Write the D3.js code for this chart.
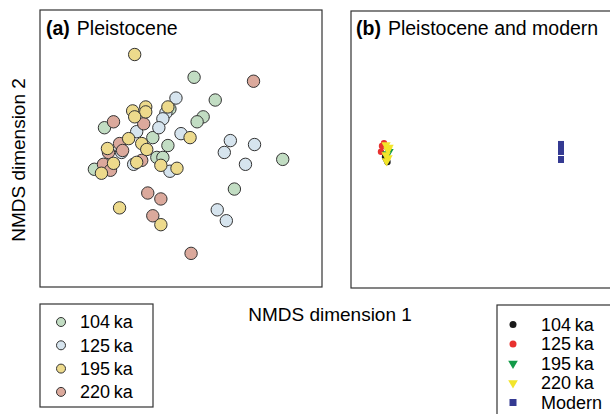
<!DOCTYPE html>
<html>
<head>
<meta charset="utf-8">
<script src="https://cdn.jsdelivr.net/npm/d3@7"></script>
<style>
body{margin:0;background:#fff;}
svg{display:block;font-family:'Liberation Sans',Arial,sans-serif;}
</style>
</head>
<body>
<div id="chart"></div>
<script>
//Panel (a): NMDS scores of Pleistocene samples
var ka104 = [[0.13,0.72],[0.34,0.49],[0.22,0.32],[0.16,0.27],[-0.76,0.21],[-0.28,0.11],[-0.13,0.03],
	[-0.24,-0.09],[-0.18,-0.09],[-0.86,-0.21],[1.01,-0.11],[0.53,-0.41],[-0.11,0.40]];
var ka125 = [[-0.05,0.51],[-0.15,0.36],[-0.18,0.30],[-0.22,0.21],[-0.44,0.17],[0.00,0.15],[0.49,0.08],
	[0.73,0.04],[0.43,-0.04],[0.64,-0.16],[-0.59,-0.04],[-0.47,-0.16],[-0.11,-0.23],[0.36,-0.62],[0.45,-0.73]];
var ka195 = [[-0.46,0.95],[-0.48,0.38],[-0.35,0.42],[-0.35,0.37],[-0.46,0.32],[-0.13,0.42],[-0.52,0.10],
	[-0.39,0.05],[-0.34,-0.01],[-0.73,0.00],[-0.67,-0.15],[-0.79,-0.25],[-0.44,-0.14],[-0.20,-0.17],
	[-0.04,-0.20],[0.09,0.11],[-0.61,-0.60],[-0.20,-0.77]];
var ka220 = [[0.72,0.68],[-0.67,0.27],[-0.37,0.25],[-0.61,0.05],[-0.58,-0.02],[-0.72,-0.04],[-0.77,-0.16],
	[-0.70,-0.22],[-0.39,-0.12],[-0.33,-0.45],[-0.20,-0.51],[-0.28,-0.68],[0.10,-1.06]];

//Panel (b): Pleistocene and modern samples in one ordination
var b104 = [[-0.06,-0.076],[-0.05,-0.096],[-0.035,-0.126]];
var b125 = [[-0.07,0.063],[-0.10,-0.022],[-0.09,0.035]];
var b195 = [[-0.02,-0.022],[-0.04,-0.045]];
var b220 = [[-0.05,0.045],[-0.02,0.02],[-0.03,-0.005],[-0.05,-0.056],[-0.03,-0.086],[-0.045,-0.116]];
var bModern = [[1.70,0.056],[1.70,0.025],[1.70,-0.005],[1.70,-0.025],[1.70,-0.096],[1.70,-0.106]];

var ageLabels = ['104\u2009ka','125\u2009ka','195\u2009ka','220\u2009ka'];
var bLabels = ['104\u2009ka','125\u2009ka','195\u2009ka','220\u2009ka','Modern'];

var W = 610, H = 414;
var svg = d3.select('#chart').append('svg').attr('width',W).attr('height',H);

var pastel = ['#c2ddc3','#d6e4ee','#edda8c','#dba99c'];
var bright = ['#1a1a1a','#e8312f','#129a48','#f2e52a','#343a92'];

//Panel (a)
var xa = d3.scaleLinear().domain([-1.4,1.4]).range([40,322]),
	ya = d3.scaleLinear().domain([-1.4,1.4]).range([287,10]);

svg.append('rect').attr('x',40).attr('y',10).attr('width',282).attr('height',277)
	.style('fill','none').style('stroke','#333').style('stroke-width',1.2);

var groupsA = [ka104,ka125,ka220,ka195],
	colA = [pastel[0],pastel[1],pastel[3],pastel[2]];
groupsA.forEach(function(g,i){
	svg.append('g').selectAll('circle').data(g).enter().append('circle')
		.attr('cx',function(d){return xa(d[0])})
		.attr('cy',function(d){return ya(d[1])})
		.attr('r',6.2)
		.style('fill',colA[i]).style('stroke','#333').style('stroke-width',1);
});

var ta = svg.append('text').attr('x',46).attr('y',35).style('font-size','19.5px');
ta.append('tspan').style('font-weight','bold').text('(a)');
ta.append('tspan').attr('dx',7).text('Pleistocene');

//Panel (b)
var xb = d3.scaleLinear().domain([-0.4,2.4]).range([351,631]),
	yb = d3.scaleLinear().domain([-1.4,1.4]).range([288,11]);

svg.append('rect').attr('x',351).attr('y',11).attr('width',280).attr('height',277)
	.style('fill','none').style('stroke','#333').style('stroke-width',1.2);

var tri = d3.symbol().type(d3.symbolTriangle).size(38);
function drawB(data,col,shape){
	var sel = svg.append('g').selectAll('path').data(data).enter();
	if(shape==='circle'){
		sel.append('circle').attr('cx',function(d){return xb(d[0])}).attr('cy',function(d){return yb(d[1])})
			.attr('r',3.2).style('fill',col);
	}else if(shape==='tri'){
		sel.append('path').attr('d',tri)
			.attr('transform',function(d){return 'translate('+xb(d[0])+','+yb(d[1])+') rotate(180)'})
			.style('fill',col);
	}else{
		sel.append('rect').attr('x',function(d){return xb(d[0])-3}).attr('y',function(d){return yb(d[1])-3})
			.attr('width',6).attr('height',6).style('fill',col);
	}
}
drawB(b104,bright[0],'circle');
drawB(b125,bright[1],'circle');
drawB(b195,bright[2],'tri');
drawB(b220,bright[3],'tri');
drawB(bModern,bright[4],'square');

var tb = svg.append('text').attr('x',356).attr('y',35).style('font-size','19.5px');
tb.append('tspan').style('font-weight','bold').text('(b)');
tb.append('tspan').attr('dx',7).text('Pleistocene and modern');

//Axis titles
svg.append('text').attr('x',330).attr('y',321).attr('text-anchor','middle')
	.style('font-size','19px').text('NMDS dimension 1');
svg.append('text').attr('transform','translate(25,160) rotate(-90)').attr('text-anchor','middle')
	.style('font-size','19px').text('NMDS dimension 2');

//Legend (a)
svg.append('rect').attr('x',40).attr('y',304).attr('width',113).attr('height',103)
	.style('fill','none').style('stroke','#333').style('stroke-width',1.2);
var legA = svg.append('g').selectAll('g').data(ageLabels).enter().append('g')
	.attr('transform',function(d,i){return 'translate(61,'+(322+i*23.3)+')'});
legA.append('circle').attr('r',4.5).style('fill',function(d,i){return pastel[i]})
	.style('stroke','#333').style('stroke-width',1);
legA.append('text').attr('x',19).attr('dy','0.36em').style('font-size','18px').text(function(d){return d});

//Legend (b)
svg.append('rect').attr('x',497).attr('y',305).attr('width',140).attr('height',140)
	.style('fill','none').style('stroke','#333').style('stroke-width',1.2);
var legB = svg.append('g').selectAll('g').data(bLabels).enter().append('g')
	.attr('transform',function(d,i){return 'translate(513,'+(324.5+i*19.5)+')'});
legB.each(function(d,i){
	var g = d3.select(this);
	if(i<2) g.append('circle').attr('r',3.5).style('fill',bright[i]);
	else if(i<4) g.append('path').attr('d',d3.symbol().type(d3.symbolTriangle).size(40)).attr('transform','rotate(180)').style('fill',bright[i]);
	else g.append('rect').attr('x',-3.5).attr('y',-3.5).attr('width',7).attr('height',7).style('fill',bright[i]);
});
legB.append('text').attr('x',28).attr('dy','0.36em').style('font-size','18px').text(function(d){return d});
</script>
</body>
</html>
